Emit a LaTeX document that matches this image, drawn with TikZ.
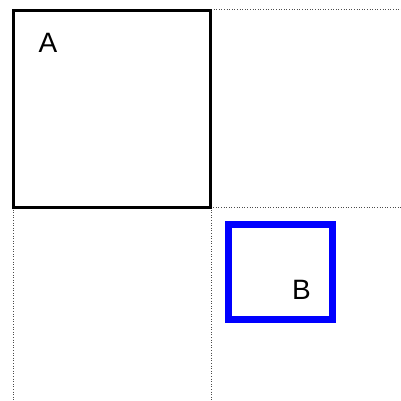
\documentclass[tikz,border=0pt]{standalone}
\usepackage{fontspec}
\setmainfont{Liberation Sans}
\begin{document}
\begin{tikzpicture}[x=1pt,y=-1pt,
  grid/.style={draw=black!70,line width=0.6pt,dotted},
  boxA/.style={draw=black,line width=3pt},
  boxB/.style={draw=blue,line width=7pt},
  lbl/.style={anchor=base,inner sep=0pt,font=\fontsize{28}{30}\selectfont}]
\useasboundingbox (0,0) rectangle (401,401);
\coordinate (g1) at (211,9);
\coordinate (g2) at (401,9);
\coordinate (g3) at (13,207);
\coordinate (g4) at (401,207);
\coordinate (g5) at (13,401);
\coordinate (g6) at (211,401);
\coordinate (g7) at (211,207);
\path[grid] (g1) -- (g2);
\path[grid] (g3) -- (g4);
\path[grid] (g3) -- (g5);
\path[grid] (g7) -- (g6);
\path[boxA] (13.5,10.5) rectangle (210.5,207.5);
\path[boxB] (228.5,224.5) rectangle (332.5,319.5);
\node[lbl] (A) at (48,53) {A};
\node[lbl] (B) at (301.5,299) {B};
\end{tikzpicture}
\end{document}
